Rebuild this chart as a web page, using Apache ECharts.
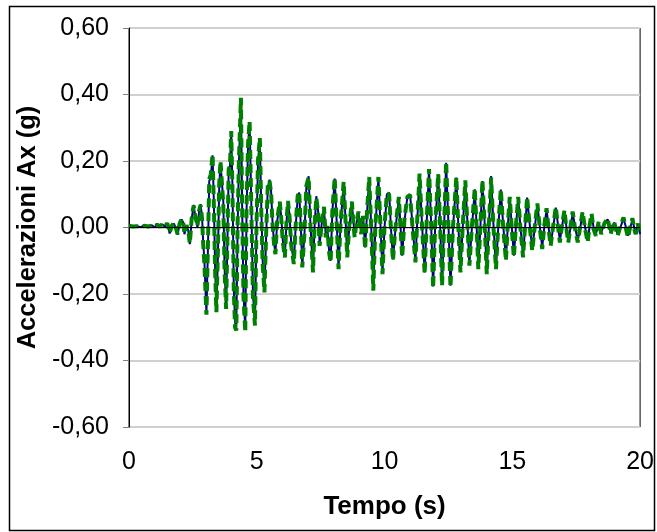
<!DOCTYPE html>
<html>
<head>
<meta charset="utf-8">
<script src="https://cdn.jsdelivr.net/npm/echarts@6/dist/echarts.min.js"></script>
<style>
html,body{margin:0;padding:0;background:#fff;}
#chart{width:657px;height:532px;}
</style>
</head>
<body>
<div id="chart"></div>
<script>
// Time (s)
const tempo = [
0.00,0.15,0.30,0.45,0.60,0.75,0.90,1.00,1.10,1.20,1.30,1.40,1.50,1.59,1.68,1.76,1.84,1.90,1.98,2.06,
2.12,2.17,2.25,2.32,2.38,2.46,2.53,2.60,2.68,2.74,2.80,2.86,2.90,2.95,3.03,3.09,3.14,3.20,3.27,3.32,
3.37,3.42,3.48,3.53,3.58,3.63,3.69,3.74,3.80,3.85,3.90,3.95,4.00,4.05,4.10,4.15,4.20,4.25,4.30,4.38,
4.43,4.48,4.55,4.60,4.66,4.72,4.78,4.85,4.93,4.99,5.05,5.12,5.18,5.23,5.30,5.37,5.43,5.50,5.56,5.62,
5.68,5.73,5.80,5.90,5.96,6.02,6.10,6.16,6.22,6.28,6.35,6.45,6.52,6.60,6.66,6.72,6.78,6.86,6.94,7.03,
7.10,7.20,7.26,7.33,7.40,7.46,7.54,7.63,7.70,7.76,7.83,7.89,7.96,8.05,8.12,8.20,8.28,8.40,8.47,8.54,
8.62,8.72,8.78,8.83,8.90,8.98,9.04,9.09,9.16,9.24,9.32,9.40,9.48,9.56,9.64,9.76,9.84,9.92,10.00,10.09,
10.18,10.25,10.33,10.42,10.56,10.62,10.69,10.78,10.89,11.00,11.10,11.21,11.28,11.37,11.46,11.57,11.64,11.74,11.82,11.90,
11.98,12.10,12.17,12.25,12.33,12.41,12.50,12.58,12.68,12.81,12.88,12.97,13.06,13.16,13.24,13.32,13.42,13.53,13.60,13.67,
13.75,13.83,13.92,14.00,14.08,14.17,14.26,14.36,14.45,14.55,14.64,14.75,14.82,14.90,14.98,15.06,15.14,15.23,15.32,15.42,
15.50,15.58,15.68,15.78,15.88,15.98,16.08,16.17,16.25,16.34,16.42,16.50,16.60,16.70,16.80,16.86,16.94,17.04,17.12,17.19,
17.28,17.36,17.46,17.56,17.66,17.75,17.85,17.95,18.02,18.10,18.18,18.27,18.38,18.48,18.60,18.73,18.85,18.98,19.12,19.25,
19.35,19.45,19.53,19.62,19.70,19.77,19.83,19.92,20.00
];
// Blue solid series (g)
const accBlu = [
0.004,0.002,0.005,0.001,0.006,0.002,0.007,0.001,0.008,0.003,0.010,0.002,0.012,-0.018,0.004,0.012,-0.004,-0.022,0.010,0.024,
0.015,-0.020,0.005,-0.010,-0.050,0.030,0.068,0.030,0.000,0.045,0.070,0.030,-0.040,-0.100,-0.257,-0.060,0.140,0.150,0.217,0.080,
-0.120,-0.250,-0.080,0.120,0.195,0.200,0.080,-0.120,-0.240,-0.050,0.170,0.180,0.285,0.120,-0.180,-0.285,-0.300,0.000,0.190,0.385,
0.050,-0.200,-0.305,0.050,0.250,0.315,0.100,-0.200,-0.290,0.000,0.200,0.265,0.050,-0.100,-0.190,-0.020,0.120,0.144,0.110,0.010,
-0.050,-0.076,0.020,0.075,0.030,-0.040,-0.085,0.010,0.078,0.040,-0.050,-0.106,0.000,0.090,0.105,0.010,-0.116,-0.030,0.120,0.154,
0.010,-0.130,0.000,0.094,0.050,-0.050,0.010,0.060,-0.025,0.000,-0.070,-0.100,0.050,0.147,0.030,-0.120,0.010,0.135,0.030,-0.085,
0.000,0.075,0.020,-0.025,0.010,0.045,0.010,-0.015,0.030,-0.060,0.050,0.150,0.000,-0.184,0.000,0.150,0.010,-0.136,0.000,0.100,
0.105,0.000,-0.096,-0.010,0.090,0.010,-0.085,0.020,0.090,0.100,0.000,-0.100,0.020,0.160,0.020,-0.135,0.000,0.174,0.020,-0.177,
0.000,0.160,0.020,-0.170,0.000,0.195,0.010,-0.175,0.000,0.150,0.020,-0.130,0.000,0.140,0.020,-0.110,0.000,0.115,0.010,-0.120,
0.000,0.140,0.010,-0.135,0.000,0.155,0.010,-0.120,0.000,0.114,0.010,-0.095,0.000,0.090,0.000,-0.085,0.000,0.090,0.000,-0.085,
0.000,0.090,0.010,-0.065,0.000,0.070,0.000,-0.060,0.000,0.055,0.000,-0.050,0.000,0.060,0.000,-0.040,0.000,0.050,0.000,-0.040,
0.000,0.045,0.000,-0.040,0.000,0.045,0.000,-0.040,0.000,0.040,0.000,-0.020,0.015,-0.015,0.010,0.025,-0.015,0.015,-0.020,0.005,
0.027,0.000,-0.025,0.000,0.025,0.000,-0.015,0.010,-0.020
];
// Green dashed series (g)
const accVerde = [
0.005,0.003,0.004,0.002,0.005,0.003,0.006,0.002,0.009,0.002,0.011,0.003,0.013,-0.016,0.006,0.014,-0.002,-0.020,0.012,0.026,
0.016,-0.018,0.007,-0.008,-0.048,0.034,0.066,0.032,0.004,0.050,0.068,0.026,-0.045,-0.110,-0.262,-0.050,0.145,0.160,0.220,0.070,
-0.130,-0.255,-0.070,0.130,0.200,0.195,0.070,-0.130,-0.245,-0.040,0.175,0.185,0.290,0.110,-0.190,-0.300,-0.310,0.010,0.200,0.390,
0.040,-0.210,-0.315,0.060,0.255,0.320,0.090,-0.210,-0.295,0.010,0.205,0.270,0.040,-0.110,-0.195,-0.010,0.125,0.140,0.105,0.005,
-0.055,-0.080,0.025,0.078,0.025,-0.045,-0.090,0.015,0.080,0.035,-0.055,-0.110,0.005,0.095,0.108,0.005,-0.120,-0.025,0.125,0.152,
0.005,-0.135,0.005,0.090,0.045,-0.055,0.015,0.062,-0.030,0.005,-0.075,-0.105,0.055,0.150,0.025,-0.125,0.015,0.138,0.025,-0.090,
0.005,0.078,0.015,-0.030,0.015,0.048,0.005,-0.020,0.035,-0.065,0.055,0.152,-0.005,-0.190,0.005,0.152,0.005,-0.140,0.005,0.102,
0.100,-0.005,-0.100,-0.005,0.092,0.005,-0.090,0.025,0.092,0.098,-0.005,-0.105,0.025,0.162,0.015,-0.140,0.005,0.176,0.015,-0.182,
0.005,0.162,0.015,-0.175,0.005,0.198,0.005,-0.180,0.005,0.152,0.015,-0.135,0.005,0.142,0.015,-0.115,0.005,0.118,0.005,-0.125,
0.005,0.142,0.005,-0.140,0.005,0.150,0.005,-0.125,0.005,0.116,0.005,-0.100,0.005,0.092,-0.005,-0.090,0.005,0.092,-0.005,-0.090,
0.005,0.092,0.005,-0.070,0.005,0.072,-0.005,-0.065,0.005,0.058,-0.005,-0.055,0.005,0.062,-0.005,-0.045,0.005,0.052,-0.005,-0.045,
0.005,0.048,-0.005,-0.045,0.005,0.047,-0.005,-0.045,0.005,0.042,-0.005,-0.025,0.018,-0.020,0.012,0.028,-0.020,0.018,-0.025,0.008,
0.030,-0.005,-0.030,0.005,0.028,-0.005,-0.020,0.012,-0.022
];
const xTicks = [0, 5, 10, 15, 20];
const yTicks = [-0.6, -0.4, -0.2, 0, 0.2, 0.4, 0.6];

const FONT = 'Liberation Sans, Arial, sans-serif';
const blueData = tempo.map((t, i) => [t, accBlu[i]]);
const greenData = tempo.map((t, i) => [t, accVerde[i]]);

const chart = echarts.init(document.getElementById('chart'), null, {renderer: 'canvas'});
chart.setOption({
  animation: false,
  backgroundColor: '#fff',
  textStyle: {fontFamily: FONT, color: '#000'},
  graphic: [{
    type: 'rect', silent: true, z: -1,
    shape: {x: 9.5, y: 6.5, width: 645, height: 524},
    style: {fill: 'none', stroke: '#000', lineWidth: 1.5}
  }],
  grid: {left: 129, right: 15, top: 28, bottom: 105, show: true, borderColor: '#000', borderWidth: 1, backgroundColor: 'transparent'},
  xAxis: {
    type: 'value', min: xTicks[0], max: xTicks[xTicks.length - 1], interval: 5,
    name: 'Tempo (s)', nameLocation: 'middle', nameGap: 67,
    nameTextStyle: {fontFamily: FONT, fontSize: 26, fontWeight: 'bold', color: '#000'},
    axisLine: {show: false, onZero: false},
    axisTick: {show: false},
    splitLine: {show: false},
    axisLabel: {fontFamily: FONT, fontSize: 25, color: '#000', margin: 23}
  },
  yAxis: {
    type: 'value', min: yTicks[0], max: yTicks[yTicks.length - 1], interval: 0.2,
    name: 'Accelerazioni Ax (g)', nameLocation: 'middle', nameGap: 83,
    nameTextStyle: {fontFamily: FONT, fontSize: 25.5, fontWeight: 'bold', color: '#000'},
    axisLine: {show: true, onZero: false, lineStyle: {color: '#000', width: 1}},
    axisTick: {show: true, inside: false, length: 6, lineStyle: {color: '#808080'}},
    splitLine: {show: true, lineStyle: {color: '#d0d0d0', width: 2}},
    axisLabel: {fontFamily: FONT, fontSize: 25, color: '#000', margin: 20,
      formatter: v => (Math.abs(v) < 1e-9 ? 0 : v).toFixed(2).replace('.', ',')}
  },
  series: [{
    type: 'line', data: blueData, showSymbol: false, symbol: 'none',
    lineStyle: {color: '#000080', width: 2}, z: 3,
    markLine: {silent: true, symbol: 'none', label: {show: false},
      lineStyle: {color: '#000000', width: 1, type: 'solid'},
      data: [{yAxis: 0}]}
  }, {
    type: 'line', data: greenData, showSymbol: false, symbol: 'none',
    lineStyle: {color: '#008000', width: 4, type: [9, 5]}, z: 4
  }]
});
</script>
</body>
</html>
